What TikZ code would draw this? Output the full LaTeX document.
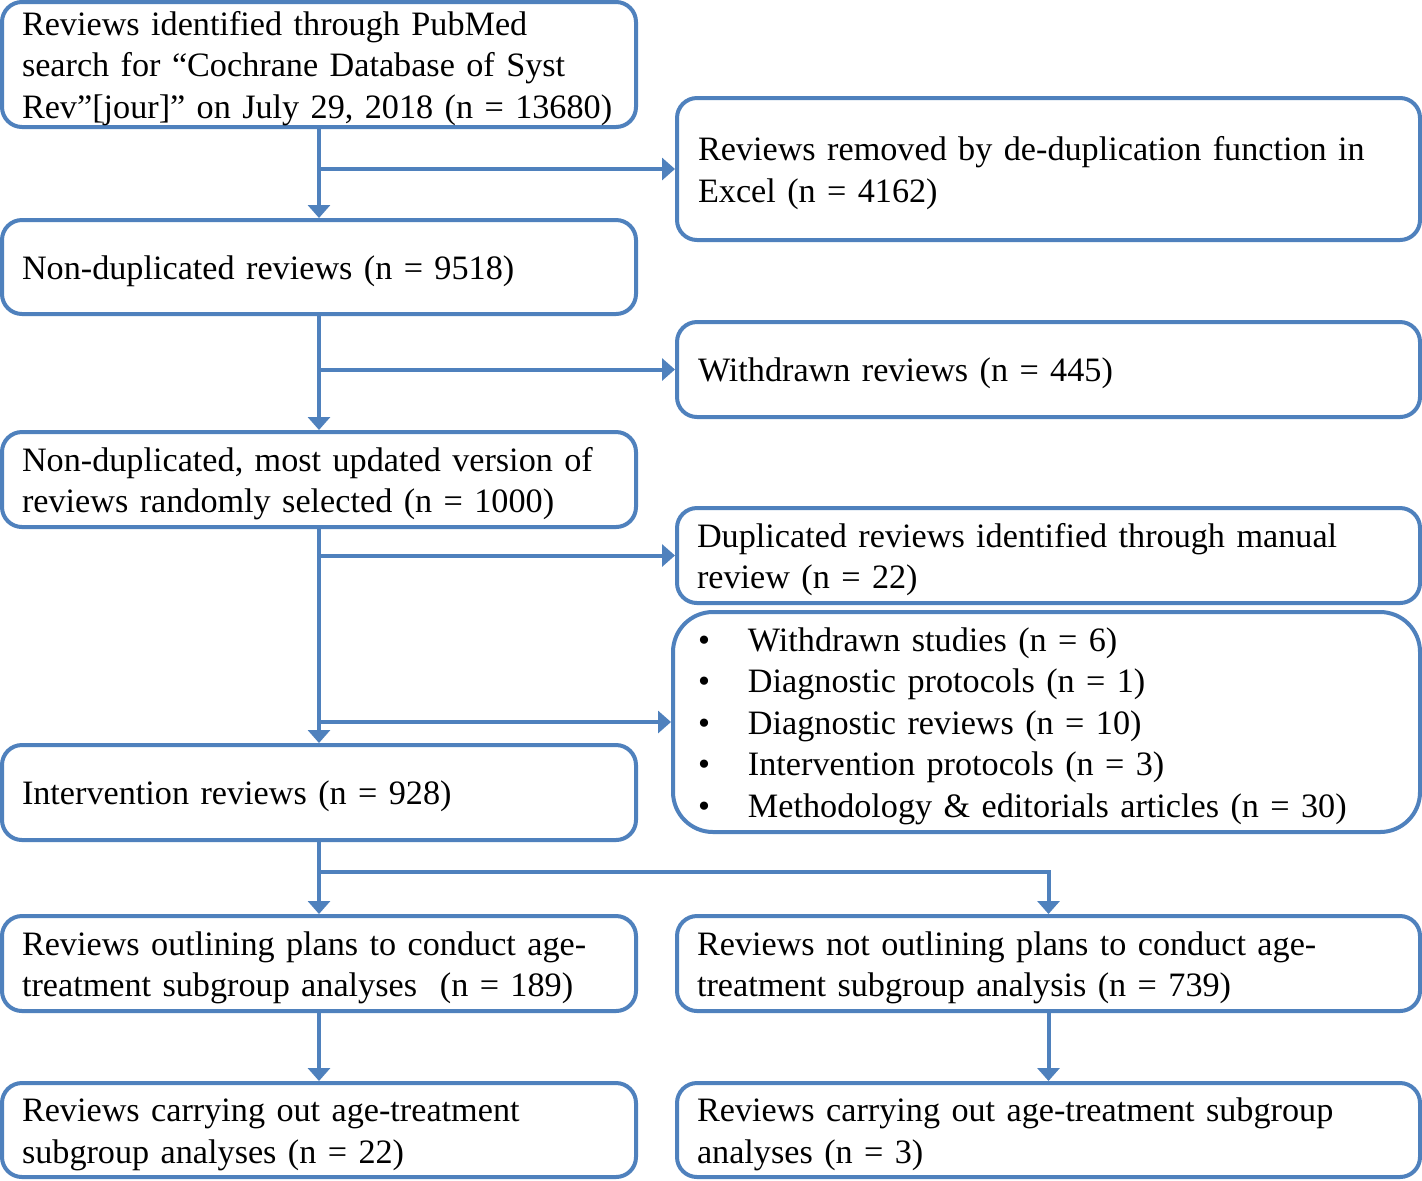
\documentclass[tikz,border=0pt]{standalone}
\usepackage{fontspec}
\setmainfont{Liberation Serif}
\usetikzlibrary{arrows.meta,calc}
\definecolor{boxblue}{HTML}{4F81BD}
\begin{document}
\begin{tikzpicture}[x=0.5pt,y=-0.5pt,
  every node/.style={font=\fontsize{17.1}{20.75}\selectfont},
  boxbase/.style={draw=boxblue,line width=2pt,rounded corners=10pt,anchor=north west,
    inner ysep=0pt,align=left,execute at begin node={\rule{0pt}{16pt}}},
  lbox/.style={boxbase,text width=297pt,inner xsep=10pt},
  rbox/.style={boxbase,text width=351.5pt,inner xsep=10pt},
  conn/.style={draw=boxblue,line width=2pt,-{Triangle[length=6.5pt,width=11pt]}}
]
\useasboundingbox (0,0) rectangle (1422,1180);
\fill[white] (0,0) rectangle (1422,1180);

\node[lbox,minimum height=62.5pt] (b1) at (0,0) {Reviews identified through PubMed\\search for “Cochrane Database of Syst\\\mbox{Rev”[jour]” on July 29, 2018 (n = 13680)}};
\node[rbox,minimum height=71pt,text width=350.5pt,inner xsep=10.5pt] (b2) at (675,96) {Reviews removed by de-duplication function in\\Excel (n = 4162)};
\node[lbox,minimum height=47pt] (b3) at (0,218) {Non-duplicated reviews (n = 9518)};
\node[rbox,minimum height=47.5pt,text width=350.5pt,inner xsep=10.5pt] (b4) at (675,320) {Withdrawn reviews (n = 445)};
\node[lbox,minimum height=47.5pt] (b5) at (0,430) {Non-duplicated, most updated version of\\reviews randomly selected (n = 1000)};
\node[rbox,minimum height=47.5pt] (b6) at (675,506) {Duplicated reviews identified through manual\\review (n = 22)};
\node[rbox,minimum height=110pt,rounded corners=20pt,text width=348.5pt,inner xsep=12.5pt] (b7) at (671,610) {%
\makebox[25pt][l]{•}Withdrawn studies (n = 6)\\
\makebox[25pt][l]{•}Diagnostic protocols (n = 1)\\
\makebox[25pt][l]{•}Diagnostic reviews (n = 10)\\
\makebox[25pt][l]{•}Intervention protocols (n = 3)\\
\makebox[25pt][l]{•}Methodology \& editorials articles (n = 30)};
\node[lbox,minimum height=47.5pt] (b8) at (0,743) {Intervention reviews (n = 928)};
\node[lbox,minimum height=47.5pt] (b9) at (0,914) {Reviews outlining plans to conduct age-\\treatment subgroup analyses~ (n = 189)};
\node[rbox,minimum height=47.5pt] (b10) at (675,914) {Reviews not outlining plans to conduct age-\\treatment subgroup analysis (n = 739)};
\node[lbox,minimum height=47pt] (b11) at (0,1081) {Reviews carrying out age-treatment\\subgroup analyses (n = 22)};
\node[rbox,minimum height=47pt] (b12) at (675,1081) {Reviews carrying out age-treatment subgroup\\analyses (n = 3)};

\draw[conn] (b1.south) -- (b3.north);
\draw[conn] (b2.west -| b1.south) -- (b2.west);
\draw[conn] (b3.south) -- (b5.north);
\draw[conn] (b4.west -| b3.south) -- (b4.west);
\draw[conn] (b5.south) -- (b8.north);
\draw[conn] (b6.west -| b5.south) -- (b6.west);
\draw[conn] (b7.west -| b5.south) -- (b7.west);
\draw[conn] (b8.south) -- (b9.north);
\coordinate (j) at ($(b8.south)+(0,30)$);
\draw[conn] (j) -| (b10.north);
\draw[conn] (b9.south) -- (b11.north);
\draw[conn] (b10.south) -- (b12.north);
\end{tikzpicture}
\end{document}
